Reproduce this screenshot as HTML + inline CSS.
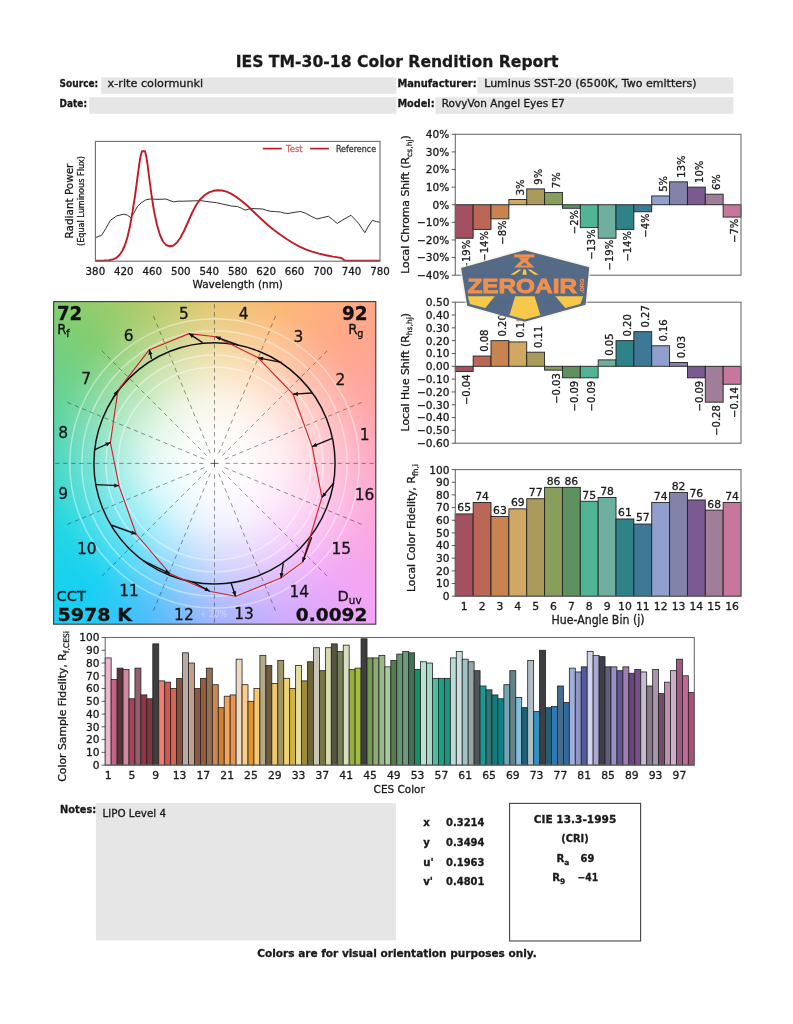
<!DOCTYPE html>
<html lang="en">
<head>
<meta charset="utf-8">
<title>IES TM-30-18 Color Rendition Report</title>
<style>
html, body { margin: 0; padding: 0; background: #ffffff; }
body { width: 793px; height: 1024px; overflow: hidden; position: relative; font-family: "DejaVu Sans", "Liberation Sans", sans-serif; }
#cvgbg {
  position: absolute; left: 53.6px; top: 301.6px; width: 322.2px; height: 322.6px;
  background:
    radial-gradient(circle at 50% 50%, #fff 0%, rgba(255,255,255,0) 62%),
    radial-gradient(circle at 0% 0%, rgb(130,205,112), rgba(130,205,112,0) 75%),
    radial-gradient(circle at 100% 0%, rgb(255,168,136), rgba(255,168,136,0) 75%),
    radial-gradient(circle at 0% 100%, rgb(22,208,243), rgba(22,208,243,0) 75%),
    radial-gradient(circle at 100% 100%, rgb(240,166,248), rgba(240,166,248,0) 75%),
    #e8e4ee;
  background:
    radial-gradient(circle closest-side at 50% 50%, rgba(255,255,255,1) 0%, rgba(255,255,255,0.96) 20%, rgba(255,255,255,0.82) 40%, rgba(255,255,255,0.58) 58%, rgba(255,255,255,0.34) 74%, rgba(255,255,255,0.14) 90%, rgba(255,255,255,0.03) 102%, rgba(255,255,255,0) 112%),
    conic-gradient(from 0deg at 50% 50%,
      rgb(230,197,108) 0deg,
      rgb(252,184,116) 22deg,
      rgb(255,168,136) 45deg,
      rgb(255,164,162) 67deg,
      rgb(254,166,194) 90deg,
      rgb(252,168,224) 112deg,
      rgb(240,166,248) 135deg,
      rgb(205,170,253) 157deg,
      rgb(158,175,253) 180deg,
      rgb(78,188,252) 202deg,
      rgb(22,208,243) 225deg,
      rgb(30,214,226) 247deg,
      rgb(66,214,192) 270deg,
      rgb(98,211,150) 292deg,
      rgb(130,205,112) 315deg,
      rgb(186,203,106) 340deg,
      rgb(230,197,108) 360deg);
}
svg { position: absolute; left: 0; top: 0; }
svg text { font-family: "DejaVu Sans", "Liberation Sans", sans-serif; fill: #1a1a1a; stroke: #1a1a1a; stroke-width: 0.3px; }
</style>
</head>
<body>
<div id="cvgbg"></div>
<svg width="793" height="1024" viewBox="0 0 793 1024">
<defs><clipPath id="cvgclip"><rect x="53.6" y="301.6" width="322.2" height="322.6"/></clipPath></defs>
<!-- header -->
<text x="235.70" y="66.60" font-size="16.6" font-weight="bold" textLength="322.8" lengthAdjust="spacingAndGlyphs">IES TM-30-18 Color Rendition Report</text>
<rect x="101.20" y="77.40" width="295.20" height="16.40" fill="#e6e6e6"/>
<rect x="89.20" y="97.20" width="307.20" height="16.60" fill="#e6e6e6"/>
<rect x="477.40" y="77.40" width="255.90" height="16.20" fill="#e6e6e6"/>
<rect x="435.40" y="97.20" width="297.90" height="16.60" fill="#e6e6e6"/>
<text x="59.60" y="87.20" font-size="10.4" font-weight="bold" textLength="38.6" lengthAdjust="spacingAndGlyphs">Source:</text>
<text x="107.60" y="87.20" font-size="10.4" textLength="95.6" lengthAdjust="spacingAndGlyphs">x-rite colormunki</text>
<text x="59.60" y="107.00" font-size="10.4" font-weight="bold" textLength="27.4" lengthAdjust="spacingAndGlyphs">Date:</text>
<text x="397.40" y="87.30" font-size="10.4" font-weight="bold" textLength="79.2" lengthAdjust="spacingAndGlyphs">Manufacturer:</text>
<text x="484.20" y="87.30" font-size="10.4" textLength="212.4" lengthAdjust="spacingAndGlyphs">Luminus SST-20 (6500K, Two emitters)</text>
<text x="397.40" y="107.00" font-size="10.4" font-weight="bold" textLength="37.2" lengthAdjust="spacingAndGlyphs">Model:</text>
<text x="441.80" y="107.00" font-size="10.4" textLength="123.0" lengthAdjust="spacingAndGlyphs">RovyVon Angel Eyes E7</text>
<!-- spectrum -->
<polyline fill="none" stroke="#1c1c1c" stroke-width="0.9" stroke-linejoin="round" points="95.4,237.7 101.7,235.2 105.5,229.0 110.5,220.3 116.8,215.8 123.9,214.2 127.5,215.2 130.7,217.6 134.0,213.0 137.0,207.0 141.0,203.0 145.8,199.9 150.9,198.9 158.0,199.4 166.0,199.0 170.0,200.6 173.6,201.9 178.0,201.2 183.7,201.2 192.0,200.9 201.3,200.7 209.0,201.8 216.5,202.7 224.0,204.4 231.6,206.0 237.6,206.6 241.5,208.2 245.1,210.2 250.2,208.6 256.0,208.7 262.8,209.0 266.5,210.4 270.4,211.3 275.5,211.6 280.4,212.0 284.0,213.0 288.0,213.5 294.0,212.4 300.6,211.5 305.7,213.3 311.0,216.2 317.0,219.0 322.5,217.6 328.4,216.3 332.5,219.5 337.2,223.4 344.0,219.2 351.0,215.3 354.8,219.2 358.6,223.4 361.8,228.2 364.9,232.7 368.5,226.0 372.5,220.3 376.3,221.6 380.0,222.1"/>
<polyline fill="none" stroke="#c41a26" stroke-width="1.9" stroke-linejoin="round" points="95.4,260.6 104.0,260.5 109.0,260.2 113.0,259.4 116.5,257.8 119.5,255.0 122.5,250.5 125.0,245.0 127.5,237.0 130.0,226.0 132.5,212.0 135.0,196.0 137.0,181.0 139.0,166.0 140.6,156.0 142.0,151.2 145.0,151.2 146.2,156.0 147.6,165.0 149.5,180.0 151.5,195.0 154.0,211.0 157.0,225.0 160.0,235.0 163.0,241.5 166.0,245.0 169.8,246.3 173.5,245.5 177.0,242.5 180.5,237.5 184.0,231.0 188.0,222.0 192.0,213.0 196.0,205.2 200.0,199.5 204.5,195.2 209.0,192.4 213.5,190.8 217.7,190.2 222.0,190.5 226.5,191.6 231.0,193.6 236.0,196.8 241.0,200.6 247.7,206.0 254.0,212.2 261.0,218.8 268.0,225.2 274.0,230.0 280.4,234.7 287.0,239.2 293.0,243.0 299.0,246.3 305.7,249.3 312.0,251.6 319.0,253.6 326.0,255.2 333.0,256.6 338.0,257.4 341.5,258.0 343.0,259.2 344.5,260.5 380.0,260.6"/>
<rect x="95.40" y="141.40" width="284.60" height="119.80" fill="none" stroke="#6e6e6e" stroke-width="1.1"/>
<text x="95.40" y="275.00" font-size="10.6" text-anchor="middle" textLength="19.6" lengthAdjust="spacingAndGlyphs">380</text>
<text x="123.86" y="275.00" font-size="10.6" text-anchor="middle" textLength="19.6" lengthAdjust="spacingAndGlyphs">420</text>
<text x="152.32" y="275.00" font-size="10.6" text-anchor="middle" textLength="19.6" lengthAdjust="spacingAndGlyphs">460</text>
<text x="180.78" y="275.00" font-size="10.6" text-anchor="middle" textLength="19.6" lengthAdjust="spacingAndGlyphs">500</text>
<text x="209.24" y="275.00" font-size="10.6" text-anchor="middle" textLength="19.6" lengthAdjust="spacingAndGlyphs">540</text>
<text x="237.70" y="275.00" font-size="10.6" text-anchor="middle" textLength="19.6" lengthAdjust="spacingAndGlyphs">580</text>
<text x="266.16" y="275.00" font-size="10.6" text-anchor="middle" textLength="19.6" lengthAdjust="spacingAndGlyphs">620</text>
<text x="294.62" y="275.00" font-size="10.6" text-anchor="middle" textLength="19.6" lengthAdjust="spacingAndGlyphs">660</text>
<text x="323.08" y="275.00" font-size="10.6" text-anchor="middle" textLength="19.6" lengthAdjust="spacingAndGlyphs">700</text>
<text x="351.54" y="275.00" font-size="10.6" text-anchor="middle" textLength="19.6" lengthAdjust="spacingAndGlyphs">740</text>
<text x="380.00" y="275.00" font-size="10.6" text-anchor="middle" textLength="19.6" lengthAdjust="spacingAndGlyphs">780</text>
<text x="237.70" y="288.40" font-size="11.2" text-anchor="middle" textLength="90.5" lengthAdjust="spacingAndGlyphs">Wavelength (nm)</text>
<text x="72.80" y="201.00" font-size="11.2" text-anchor="middle" textLength="74.8" lengthAdjust="spacingAndGlyphs" transform="rotate(-90 72.80 201.00)">Radiant Power</text>
<text x="83.90" y="201.00" font-size="8.4" text-anchor="middle" textLength="90.0" lengthAdjust="spacingAndGlyphs" transform="rotate(-90 83.90 201.00)">(Equal Luminous Flux)</text>
<line x1="262.80" y1="148.60" x2="281.70" y2="148.60" stroke="#c41a26" stroke-width="1.7"/>
<text x="286.00" y="151.90" font-size="9.0" textLength="16.6" lengthAdjust="spacingAndGlyphs" style="fill:#d4606a;stroke:#d4606a">Test</text>
<line x1="310.20" y1="148.60" x2="328.90" y2="148.60" stroke="#c41a26" stroke-width="1.7"/>
<text x="335.90" y="151.90" font-size="9.0" textLength="40.2" lengthAdjust="spacingAndGlyphs" style="fill:#333;stroke:#333">Reference</text>
<!-- chroma shift -->
<rect x="455.30" y="204.75" width="17.86" height="33.46" fill="#a35160" stroke="#222" stroke-width="0.9"/>
<text x="470.43" y="239.81" font-size="10.0" text-anchor="end" transform="rotate(-90 470.43 239.81)">−19%</text>
<rect x="473.16" y="204.75" width="17.86" height="24.66" fill="#ba6758" stroke="#222" stroke-width="0.9"/>
<text x="488.28" y="231.01" font-size="10.0" text-anchor="end" transform="rotate(-90 488.28 231.01)">−14%</text>
<rect x="491.01" y="204.75" width="17.86" height="14.09" fill="#c98350" stroke="#222" stroke-width="0.9"/>
<text x="506.14" y="220.44" font-size="10.0" text-anchor="end" transform="rotate(-90 506.14 220.44)">−8%</text>
<rect x="508.87" y="199.47" width="17.86" height="5.28" fill="#cfa863" stroke="#222" stroke-width="0.9"/>
<text x="524.00" y="195.27" font-size="10.0" transform="rotate(-90 524.00 195.27)">3%</text>
<rect x="526.73" y="188.90" width="17.86" height="15.85" fill="#aa9b5d" stroke="#222" stroke-width="0.9"/>
<text x="541.85" y="184.70" font-size="10.0" transform="rotate(-90 541.85 184.70)">9%</text>
<rect x="544.58" y="192.42" width="17.86" height="12.33" fill="#879e5c" stroke="#222" stroke-width="0.9"/>
<text x="559.71" y="188.22" font-size="10.0" transform="rotate(-90 559.71 188.22)">7%</text>
<rect x="562.44" y="204.75" width="17.86" height="3.52" fill="#5f905f" stroke="#222" stroke-width="0.9"/>
<text x="577.57" y="209.87" font-size="10.0" text-anchor="end" transform="rotate(-90 577.57 209.87)">−2%</text>
<rect x="580.29" y="204.75" width="17.86" height="22.90" fill="#51b595" stroke="#222" stroke-width="0.9"/>
<text x="595.42" y="229.25" font-size="10.0" text-anchor="end" transform="rotate(-90 595.42 229.25)">−13%</text>
<rect x="598.15" y="204.75" width="17.86" height="33.46" fill="#6eafa0" stroke="#222" stroke-width="0.9"/>
<text x="613.28" y="239.81" font-size="10.0" text-anchor="end" transform="rotate(-90 613.28 239.81)">−19%</text>
<rect x="616.01" y="204.75" width="17.86" height="24.66" fill="#2f8287" stroke="#222" stroke-width="0.9"/>
<text x="631.13" y="231.01" font-size="10.0" text-anchor="end" transform="rotate(-90 631.13 231.01)">−14%</text>
<rect x="633.86" y="204.75" width="17.86" height="7.04" fill="#3d7896" stroke="#222" stroke-width="0.9"/>
<text x="648.99" y="213.39" font-size="10.0" text-anchor="end" transform="rotate(-90 648.99 213.39)">−4%</text>
<rect x="651.72" y="195.94" width="17.86" height="8.81" fill="#919fce" stroke="#222" stroke-width="0.9"/>
<text x="666.85" y="191.74" font-size="10.0" transform="rotate(-90 666.85 191.74)">5%</text>
<rect x="669.58" y="181.85" width="17.86" height="22.90" fill="#8382a8" stroke="#222" stroke-width="0.9"/>
<text x="684.70" y="177.65" font-size="10.0" transform="rotate(-90 684.70 177.65)">13%</text>
<rect x="687.43" y="187.14" width="17.86" height="17.61" fill="#7b5a92" stroke="#222" stroke-width="0.9"/>
<text x="702.56" y="182.94" font-size="10.0" transform="rotate(-90 702.56 182.94)">10%</text>
<rect x="705.29" y="194.18" width="17.86" height="10.57" fill="#a07d99" stroke="#222" stroke-width="0.9"/>
<text x="720.42" y="189.98" font-size="10.0" transform="rotate(-90 720.42 189.98)">6%</text>
<rect x="723.14" y="204.75" width="17.86" height="12.33" fill="#c7779c" stroke="#222" stroke-width="0.9"/>
<text x="738.27" y="218.68" font-size="10.0" text-anchor="end" transform="rotate(-90 738.27 218.68)">−7%</text>
<rect x="455.30" y="134.30" width="285.70" height="140.90" fill="none" stroke="#6e6e6e" stroke-width="1.1"/>
<line x1="451.70" y1="134.30" x2="455.30" y2="134.30" stroke="#333" stroke-width="0.8"/>
<text x="449.40" y="138.20" font-size="10.6" text-anchor="end">40%</text>
<line x1="451.70" y1="151.91" x2="455.30" y2="151.91" stroke="#333" stroke-width="0.8"/>
<text x="449.40" y="155.81" font-size="10.6" text-anchor="end">30%</text>
<line x1="451.70" y1="169.53" x2="455.30" y2="169.53" stroke="#333" stroke-width="0.8"/>
<text x="449.40" y="173.43" font-size="10.6" text-anchor="end">20%</text>
<line x1="451.70" y1="187.14" x2="455.30" y2="187.14" stroke="#333" stroke-width="0.8"/>
<text x="449.40" y="191.04" font-size="10.6" text-anchor="end">10%</text>
<line x1="451.70" y1="204.75" x2="455.30" y2="204.75" stroke="#333" stroke-width="0.8"/>
<text x="449.40" y="208.65" font-size="10.6" text-anchor="end">0%</text>
<line x1="451.70" y1="222.36" x2="455.30" y2="222.36" stroke="#333" stroke-width="0.8"/>
<text x="449.40" y="226.26" font-size="10.6" text-anchor="end">−10%</text>
<line x1="451.70" y1="239.97" x2="455.30" y2="239.97" stroke="#333" stroke-width="0.8"/>
<text x="449.40" y="243.88" font-size="10.6" text-anchor="end">−20%</text>
<line x1="451.70" y1="257.59" x2="455.30" y2="257.59" stroke="#333" stroke-width="0.8"/>
<text x="449.40" y="261.49" font-size="10.6" text-anchor="end">−30%</text>
<line x1="451.70" y1="275.20" x2="455.30" y2="275.20" stroke="#333" stroke-width="0.8"/>
<text x="449.40" y="279.10" font-size="10.6" text-anchor="end">−40%</text>
<text x="409.2" y="204.5" font-size="10.8" text-anchor="middle" transform="rotate(-90 409.2 204.5)">Local Chroma Shift (R<tspan font-size="7.6" dy="2.8">cs,hj</tspan><tspan dy="-2.8">)</tspan></text>
<!-- hue shift -->
<rect x="455.30" y="366.29" width="17.86" height="5.13" fill="#a35160" stroke="#222" stroke-width="0.9"/>
<text x="470.43" y="374.42" font-size="10.0" text-anchor="end" transform="rotate(-90 470.43 374.42)">−0.04</text>
<rect x="473.16" y="356.04" width="17.86" height="10.25" fill="#ba6758" stroke="#222" stroke-width="0.9"/>
<text x="488.28" y="351.84" font-size="10.0" transform="rotate(-90 488.28 351.84)">0.08</text>
<rect x="491.01" y="340.65" width="17.86" height="25.64" fill="#c98350" stroke="#222" stroke-width="0.9"/>
<text x="506.14" y="336.45" font-size="10.0" transform="rotate(-90 506.14 336.45)">0.20</text>
<rect x="508.87" y="341.94" width="17.86" height="24.35" fill="#cfa863" stroke="#222" stroke-width="0.9"/>
<text x="524.00" y="337.74" font-size="10.0" transform="rotate(-90 524.00 337.74)">0.19</text>
<rect x="526.73" y="352.19" width="17.86" height="14.10" fill="#aa9b5d" stroke="#222" stroke-width="0.9"/>
<text x="541.85" y="347.99" font-size="10.0" transform="rotate(-90 541.85 347.99)">0.11</text>
<rect x="544.58" y="366.29" width="17.86" height="3.85" fill="#879e5c" stroke="#222" stroke-width="0.9"/>
<text x="559.71" y="373.14" font-size="10.0" text-anchor="end" transform="rotate(-90 559.71 373.14)">−0.03</text>
<rect x="562.44" y="366.29" width="17.86" height="11.54" fill="#5f905f" stroke="#222" stroke-width="0.9"/>
<text x="577.57" y="380.83" font-size="10.0" text-anchor="end" transform="rotate(-90 577.57 380.83)">−0.09</text>
<rect x="580.29" y="366.29" width="17.86" height="11.54" fill="#51b595" stroke="#222" stroke-width="0.9"/>
<text x="595.42" y="380.83" font-size="10.0" text-anchor="end" transform="rotate(-90 595.42 380.83)">−0.09</text>
<rect x="598.15" y="359.88" width="17.86" height="6.41" fill="#6eafa0" stroke="#222" stroke-width="0.9"/>
<text x="613.28" y="355.68" font-size="10.0" transform="rotate(-90 613.28 355.68)">0.05</text>
<rect x="616.01" y="340.65" width="17.86" height="25.64" fill="#2f8287" stroke="#222" stroke-width="0.9"/>
<text x="631.13" y="336.45" font-size="10.0" transform="rotate(-90 631.13 336.45)">0.20</text>
<rect x="633.86" y="331.68" width="17.86" height="34.61" fill="#3d7896" stroke="#222" stroke-width="0.9"/>
<text x="648.99" y="327.48" font-size="10.0" transform="rotate(-90 648.99 327.48)">0.27</text>
<rect x="651.72" y="345.78" width="17.86" height="20.51" fill="#919fce" stroke="#222" stroke-width="0.9"/>
<text x="666.85" y="341.58" font-size="10.0" transform="rotate(-90 666.85 341.58)">0.16</text>
<rect x="669.58" y="362.45" width="17.86" height="3.85" fill="#8382a8" stroke="#222" stroke-width="0.9"/>
<text x="684.70" y="358.25" font-size="10.0" transform="rotate(-90 684.70 358.25)">0.03</text>
<rect x="687.43" y="366.29" width="17.86" height="11.54" fill="#7b5a92" stroke="#222" stroke-width="0.9"/>
<text x="702.56" y="380.83" font-size="10.0" text-anchor="end" transform="rotate(-90 702.56 380.83)">−0.09</text>
<rect x="705.29" y="366.29" width="17.86" height="35.89" fill="#a07d99" stroke="#222" stroke-width="0.9"/>
<text x="720.42" y="405.18" font-size="10.0" text-anchor="end" transform="rotate(-90 720.42 405.18)">−0.28</text>
<rect x="723.14" y="366.29" width="17.86" height="17.95" fill="#c7779c" stroke="#222" stroke-width="0.9"/>
<text x="738.27" y="387.24" font-size="10.0" text-anchor="end" transform="rotate(-90 738.27 387.24)">−0.14</text>
<rect x="455.30" y="302.20" width="285.70" height="141.00" fill="none" stroke="#6e6e6e" stroke-width="1.1"/>
<line x1="451.70" y1="302.20" x2="455.30" y2="302.20" stroke="#333" stroke-width="0.8"/>
<text x="449.40" y="306.10" font-size="10.6" text-anchor="end">0.50</text>
<line x1="451.70" y1="315.02" x2="455.30" y2="315.02" stroke="#333" stroke-width="0.8"/>
<text x="449.40" y="318.92" font-size="10.6" text-anchor="end">0.40</text>
<line x1="451.70" y1="327.84" x2="455.30" y2="327.84" stroke="#333" stroke-width="0.8"/>
<text x="449.40" y="331.74" font-size="10.6" text-anchor="end">0.30</text>
<line x1="451.70" y1="340.65" x2="455.30" y2="340.65" stroke="#333" stroke-width="0.8"/>
<text x="449.40" y="344.55" font-size="10.6" text-anchor="end">0.20</text>
<line x1="451.70" y1="353.47" x2="455.30" y2="353.47" stroke="#333" stroke-width="0.8"/>
<text x="449.40" y="357.37" font-size="10.6" text-anchor="end">0.10</text>
<line x1="451.70" y1="366.29" x2="455.30" y2="366.29" stroke="#333" stroke-width="0.8"/>
<text x="449.40" y="370.19" font-size="10.6" text-anchor="end">0.00</text>
<line x1="451.70" y1="379.11" x2="455.30" y2="379.11" stroke="#333" stroke-width="0.8"/>
<text x="449.40" y="383.01" font-size="10.6" text-anchor="end">−0.10</text>
<line x1="451.70" y1="391.93" x2="455.30" y2="391.93" stroke="#333" stroke-width="0.8"/>
<text x="449.40" y="395.83" font-size="10.6" text-anchor="end">−0.20</text>
<line x1="451.70" y1="404.75" x2="455.30" y2="404.75" stroke="#333" stroke-width="0.8"/>
<text x="449.40" y="408.65" font-size="10.6" text-anchor="end">−0.30</text>
<line x1="451.70" y1="417.56" x2="455.30" y2="417.56" stroke="#333" stroke-width="0.8"/>
<text x="449.40" y="421.46" font-size="10.6" text-anchor="end">−0.40</text>
<line x1="451.70" y1="430.38" x2="455.30" y2="430.38" stroke="#333" stroke-width="0.8"/>
<text x="449.40" y="434.28" font-size="10.6" text-anchor="end">−0.50</text>
<line x1="451.70" y1="443.20" x2="455.30" y2="443.20" stroke="#333" stroke-width="0.8"/>
<text x="449.40" y="447.10" font-size="10.6" text-anchor="end">−0.60</text>
<text x="409.0" y="372.2" font-size="10.8" text-anchor="middle" transform="rotate(-90 409.0 372.2)">Local Hue Shift (R<tspan font-size="7.6" dy="2.8">hs,hj</tspan><tspan dy="-2.8">)</tspan></text>
<!-- local colour fidelity -->
<rect x="455.30" y="513.91" width="17.86" height="82.29" fill="#a35160" stroke="#222" stroke-width="0.9"/>
<text x="464.23" y="511.31" font-size="10.8" text-anchor="middle">65</text>
<text x="464.23" y="610.20" font-size="10.8" text-anchor="middle">1</text>
<rect x="473.16" y="502.52" width="17.86" height="93.68" fill="#ba6758" stroke="#222" stroke-width="0.9"/>
<text x="482.08" y="499.92" font-size="10.8" text-anchor="middle">74</text>
<text x="482.08" y="610.20" font-size="10.8" text-anchor="middle">2</text>
<rect x="491.01" y="516.44" width="17.86" height="79.76" fill="#c98350" stroke="#222" stroke-width="0.9"/>
<text x="499.94" y="513.84" font-size="10.8" text-anchor="middle">63</text>
<text x="499.94" y="610.20" font-size="10.8" text-anchor="middle">3</text>
<rect x="508.87" y="508.85" width="17.86" height="87.35" fill="#cfa863" stroke="#222" stroke-width="0.9"/>
<text x="517.80" y="506.25" font-size="10.8" text-anchor="middle">69</text>
<text x="517.80" y="610.20" font-size="10.8" text-anchor="middle">4</text>
<rect x="526.73" y="498.72" width="17.86" height="97.48" fill="#aa9b5d" stroke="#222" stroke-width="0.9"/>
<text x="535.65" y="496.12" font-size="10.8" text-anchor="middle">77</text>
<text x="535.65" y="610.20" font-size="10.8" text-anchor="middle">5</text>
<rect x="544.58" y="487.32" width="17.86" height="108.88" fill="#879e5c" stroke="#222" stroke-width="0.9"/>
<text x="553.51" y="484.72" font-size="10.8" text-anchor="middle">86</text>
<text x="553.51" y="610.20" font-size="10.8" text-anchor="middle">6</text>
<rect x="562.44" y="487.32" width="17.86" height="108.88" fill="#5f905f" stroke="#222" stroke-width="0.9"/>
<text x="571.37" y="484.72" font-size="10.8" text-anchor="middle">86</text>
<text x="571.37" y="610.20" font-size="10.8" text-anchor="middle">7</text>
<rect x="580.29" y="501.25" width="17.86" height="94.95" fill="#51b595" stroke="#222" stroke-width="0.9"/>
<text x="589.22" y="498.65" font-size="10.8" text-anchor="middle">75</text>
<text x="589.22" y="610.20" font-size="10.8" text-anchor="middle">8</text>
<rect x="598.15" y="497.45" width="17.86" height="98.75" fill="#6eafa0" stroke="#222" stroke-width="0.9"/>
<text x="607.08" y="494.85" font-size="10.8" text-anchor="middle">78</text>
<text x="607.08" y="610.20" font-size="10.8" text-anchor="middle">9</text>
<rect x="616.01" y="518.97" width="17.86" height="77.23" fill="#2f8287" stroke="#222" stroke-width="0.9"/>
<text x="624.93" y="516.37" font-size="10.8" text-anchor="middle">61</text>
<text x="624.93" y="610.20" font-size="10.8" text-anchor="middle">10</text>
<rect x="633.86" y="524.04" width="17.86" height="72.16" fill="#3d7896" stroke="#222" stroke-width="0.9"/>
<text x="642.79" y="521.44" font-size="10.8" text-anchor="middle">57</text>
<text x="642.79" y="610.20" font-size="10.8" text-anchor="middle">11</text>
<rect x="651.72" y="502.52" width="17.86" height="93.68" fill="#919fce" stroke="#222" stroke-width="0.9"/>
<text x="660.65" y="499.92" font-size="10.8" text-anchor="middle">74</text>
<text x="660.65" y="610.20" font-size="10.8" text-anchor="middle">12</text>
<rect x="669.58" y="492.39" width="17.86" height="103.81" fill="#8382a8" stroke="#222" stroke-width="0.9"/>
<text x="678.50" y="489.79" font-size="10.8" text-anchor="middle">82</text>
<text x="678.50" y="610.20" font-size="10.8" text-anchor="middle">13</text>
<rect x="687.43" y="499.98" width="17.86" height="96.22" fill="#7b5a92" stroke="#222" stroke-width="0.9"/>
<text x="696.36" y="497.38" font-size="10.8" text-anchor="middle">76</text>
<text x="696.36" y="610.20" font-size="10.8" text-anchor="middle">14</text>
<rect x="705.29" y="510.11" width="17.86" height="86.09" fill="#a07d99" stroke="#222" stroke-width="0.9"/>
<text x="714.22" y="507.51" font-size="10.8" text-anchor="middle">68</text>
<text x="714.22" y="610.20" font-size="10.8" text-anchor="middle">15</text>
<rect x="723.14" y="502.52" width="17.86" height="93.68" fill="#c7779c" stroke="#222" stroke-width="0.9"/>
<text x="732.07" y="499.92" font-size="10.8" text-anchor="middle">74</text>
<text x="732.07" y="610.20" font-size="10.8" text-anchor="middle">16</text>
<rect x="455.30" y="469.60" width="285.70" height="126.60" fill="none" stroke="#6e6e6e" stroke-width="1.1"/>
<line x1="451.70" y1="469.60" x2="455.30" y2="469.60" stroke="#333" stroke-width="0.8"/>
<text x="449.40" y="473.50" font-size="10.6" text-anchor="end">100</text>
<line x1="451.70" y1="482.26" x2="455.30" y2="482.26" stroke="#333" stroke-width="0.8"/>
<text x="449.40" y="486.16" font-size="10.6" text-anchor="end">90</text>
<line x1="451.70" y1="494.92" x2="455.30" y2="494.92" stroke="#333" stroke-width="0.8"/>
<text x="449.40" y="498.82" font-size="10.6" text-anchor="end">80</text>
<line x1="451.70" y1="507.58" x2="455.30" y2="507.58" stroke="#333" stroke-width="0.8"/>
<text x="449.40" y="511.48" font-size="10.6" text-anchor="end">70</text>
<line x1="451.70" y1="520.24" x2="455.30" y2="520.24" stroke="#333" stroke-width="0.8"/>
<text x="449.40" y="524.14" font-size="10.6" text-anchor="end">60</text>
<line x1="451.70" y1="532.90" x2="455.30" y2="532.90" stroke="#333" stroke-width="0.8"/>
<text x="449.40" y="536.80" font-size="10.6" text-anchor="end">50</text>
<line x1="451.70" y1="545.56" x2="455.30" y2="545.56" stroke="#333" stroke-width="0.8"/>
<text x="449.40" y="549.46" font-size="10.6" text-anchor="end">40</text>
<line x1="451.70" y1="558.22" x2="455.30" y2="558.22" stroke="#333" stroke-width="0.8"/>
<text x="449.40" y="562.12" font-size="10.6" text-anchor="end">30</text>
<line x1="451.70" y1="570.88" x2="455.30" y2="570.88" stroke="#333" stroke-width="0.8"/>
<text x="449.40" y="574.78" font-size="10.6" text-anchor="end">20</text>
<line x1="451.70" y1="583.54" x2="455.30" y2="583.54" stroke="#333" stroke-width="0.8"/>
<text x="449.40" y="587.44" font-size="10.6" text-anchor="end">10</text>
<line x1="451.70" y1="596.20" x2="455.30" y2="596.20" stroke="#333" stroke-width="0.8"/>
<text x="449.40" y="600.10" font-size="10.6" text-anchor="end">0</text>
<text x="598.00" y="623.60" font-size="11.4" text-anchor="middle" textLength="93.0" lengthAdjust="spacingAndGlyphs">Hue-Angle Bin (j)</text>
<text x="415.3" y="528.0" font-size="10.8" text-anchor="middle" transform="rotate(-90 415.3 528.0)">Local Color Fidelity, R<tspan font-size="7.6" dy="2.8">fh,i</tspan></text>
<!-- CES fidelity -->
<g stroke="#222" stroke-width="0.8">
<rect x="105.20" y="657.92" width="5.95" height="107.18" fill="rgb(238,182,205)"/>
<rect x="111.15" y="679.61" width="5.95" height="85.49" fill="rgb(198,98,135)"/>
<rect x="117.10" y="668.12" width="5.95" height="96.98" fill="rgb(88,52,55)"/>
<rect x="123.05" y="669.40" width="5.95" height="95.70" fill="rgb(208,138,160)"/>
<rect x="129.00" y="698.75" width="5.95" height="66.35" fill="rgb(172,65,92)"/>
<rect x="134.95" y="668.12" width="5.95" height="96.98" fill="rgb(150,95,108)"/>
<rect x="140.90" y="694.92" width="5.95" height="70.18" fill="rgb(145,52,70)"/>
<rect x="146.85" y="698.75" width="5.95" height="66.35" fill="rgb(130,55,62)"/>
<rect x="152.80" y="643.88" width="5.95" height="121.22" fill="rgb(62,62,62)"/>
<rect x="158.75" y="680.88" width="5.95" height="84.22" fill="rgb(242,125,110)"/>
<rect x="164.71" y="682.16" width="5.95" height="82.94" fill="rgb(205,88,82)"/>
<rect x="170.66" y="688.54" width="5.95" height="76.56" fill="rgb(215,100,80)"/>
<rect x="176.61" y="678.33" width="5.95" height="86.77" fill="rgb(135,80,60)"/>
<rect x="182.56" y="652.81" width="5.95" height="112.29" fill="rgb(185,170,162)"/>
<rect x="188.51" y="663.02" width="5.95" height="102.08" fill="rgb(195,160,142)"/>
<rect x="194.46" y="688.54" width="5.95" height="76.56" fill="rgb(140,88,65)"/>
<rect x="200.41" y="678.33" width="5.95" height="86.77" fill="rgb(150,92,62)"/>
<rect x="206.36" y="668.12" width="5.95" height="96.98" fill="rgb(150,112,80)"/>
<rect x="212.31" y="684.71" width="5.95" height="80.39" fill="rgb(205,135,80)"/>
<rect x="218.26" y="707.68" width="5.95" height="57.42" fill="rgb(205,130,50)"/>
<rect x="224.21" y="696.20" width="5.95" height="68.90" fill="rgb(245,165,90)"/>
<rect x="230.16" y="694.92" width="5.95" height="70.18" fill="rgb(235,150,80)"/>
<rect x="236.11" y="659.19" width="5.95" height="105.91" fill="rgb(240,218,195)"/>
<rect x="242.06" y="684.71" width="5.95" height="80.39" fill="rgb(250,205,140)"/>
<rect x="248.01" y="701.30" width="5.95" height="63.80" fill="rgb(225,150,45)"/>
<rect x="253.96" y="688.54" width="5.95" height="76.56" fill="rgb(250,200,110)"/>
<rect x="259.91" y="655.36" width="5.95" height="109.74" fill="rgb(180,170,135)"/>
<rect x="265.86" y="665.57" width="5.95" height="99.53" fill="rgb(110,92,65)"/>
<rect x="271.81" y="683.44" width="5.95" height="81.66" fill="rgb(240,200,105)"/>
<rect x="277.76" y="660.47" width="5.95" height="104.63" fill="rgb(160,150,100)"/>
<rect x="283.72" y="678.33" width="5.95" height="86.77" fill="rgb(240,210,110)"/>
<rect x="289.67" y="688.54" width="5.95" height="76.56" fill="rgb(210,180,70)"/>
<rect x="295.62" y="665.57" width="5.95" height="99.53" fill="rgb(230,222,160)"/>
<rect x="301.57" y="680.88" width="5.95" height="84.22" fill="rgb(160,140,55)"/>
<rect x="307.52" y="661.74" width="5.95" height="103.36" fill="rgb(110,100,60)"/>
<rect x="313.47" y="647.71" width="5.95" height="117.39" fill="rgb(200,198,185)"/>
<rect x="319.42" y="670.68" width="5.95" height="94.42" fill="rgb(120,118,65)"/>
<rect x="325.37" y="647.71" width="5.95" height="117.39" fill="rgb(215,218,175)"/>
<rect x="331.32" y="643.88" width="5.95" height="121.22" fill="rgb(85,85,65)"/>
<rect x="337.27" y="651.54" width="5.95" height="113.56" fill="rgb(120,128,90)"/>
<rect x="343.22" y="645.16" width="5.95" height="119.94" fill="rgb(215,222,195)"/>
<rect x="349.17" y="669.40" width="5.95" height="95.70" fill="rgb(150,175,65)"/>
<rect x="355.12" y="668.12" width="5.95" height="96.98" fill="rgb(160,190,60)"/>
<rect x="361.07" y="638.78" width="5.95" height="126.32" fill="rgb(62,62,62)"/>
<rect x="367.02" y="657.92" width="5.95" height="107.18" fill="rgb(115,155,80)"/>
<rect x="372.97" y="657.92" width="5.95" height="107.18" fill="rgb(140,170,115)"/>
<rect x="378.92" y="655.36" width="5.95" height="109.74" fill="rgb(150,185,135)"/>
<rect x="384.87" y="666.85" width="5.95" height="98.25" fill="rgb(165,205,155)"/>
<rect x="390.82" y="660.47" width="5.95" height="104.63" fill="rgb(85,125,75)"/>
<rect x="396.77" y="654.09" width="5.95" height="111.01" fill="rgb(100,150,115)"/>
<rect x="402.73" y="651.54" width="5.95" height="113.56" fill="rgb(110,155,125)"/>
<rect x="408.68" y="652.81" width="5.95" height="112.29" fill="rgb(65,115,85)"/>
<rect x="414.63" y="669.40" width="5.95" height="95.70" fill="rgb(20,145,100)"/>
<rect x="420.58" y="661.74" width="5.95" height="103.36" fill="rgb(185,225,210)"/>
<rect x="426.53" y="663.02" width="5.95" height="102.08" fill="rgb(170,215,200)"/>
<rect x="432.48" y="678.33" width="5.95" height="86.77" fill="rgb(75,190,160)"/>
<rect x="438.43" y="678.33" width="5.95" height="86.77" fill="rgb(20,165,135)"/>
<rect x="444.38" y="678.33" width="5.95" height="86.77" fill="rgb(25,150,125)"/>
<rect x="450.33" y="657.92" width="5.95" height="107.18" fill="rgb(185,220,215)"/>
<rect x="456.28" y="651.54" width="5.95" height="113.56" fill="rgb(205,222,225)"/>
<rect x="462.23" y="659.19" width="5.95" height="105.91" fill="rgb(160,195,195)"/>
<rect x="468.18" y="661.74" width="5.95" height="103.36" fill="rgb(150,165,165)"/>
<rect x="474.13" y="670.68" width="5.95" height="94.42" fill="rgb(78,85,88)"/>
<rect x="480.08" y="685.99" width="5.95" height="79.11" fill="rgb(20,155,150)"/>
<rect x="486.03" y="689.82" width="5.95" height="75.28" fill="rgb(50,115,115)"/>
<rect x="491.98" y="694.92" width="5.95" height="70.18" fill="rgb(15,125,125)"/>
<rect x="497.93" y="698.75" width="5.95" height="66.35" fill="rgb(10,130,135)"/>
<rect x="503.88" y="684.71" width="5.95" height="80.39" fill="rgb(115,165,180)"/>
<rect x="509.83" y="670.68" width="5.95" height="94.42" fill="rgb(100,130,135)"/>
<rect x="515.78" y="697.47" width="5.95" height="67.63" fill="rgb(130,190,220)"/>
<rect x="521.74" y="707.68" width="5.95" height="57.42" fill="rgb(30,95,115)"/>
<rect x="527.69" y="660.47" width="5.95" height="104.63" fill="rgb(175,190,195)"/>
<rect x="533.64" y="711.51" width="5.95" height="53.59" fill="rgb(50,145,195)"/>
<rect x="539.59" y="650.26" width="5.95" height="114.84" fill="rgb(62,62,65)"/>
<rect x="545.54" y="707.68" width="5.95" height="57.42" fill="rgb(35,95,115)"/>
<rect x="551.49" y="706.40" width="5.95" height="58.70" fill="rgb(50,120,180)"/>
<rect x="557.44" y="685.99" width="5.95" height="79.11" fill="rgb(70,110,140)"/>
<rect x="563.39" y="702.58" width="5.95" height="62.52" fill="rgb(50,105,160)"/>
<rect x="569.34" y="668.12" width="5.95" height="96.98" fill="rgb(160,175,215)"/>
<rect x="575.29" y="671.95" width="5.95" height="93.15" fill="rgb(145,150,200)"/>
<rect x="581.24" y="666.85" width="5.95" height="98.25" fill="rgb(85,90,160)"/>
<rect x="587.19" y="651.54" width="5.95" height="113.56" fill="rgb(210,212,235)"/>
<rect x="593.14" y="655.36" width="5.95" height="109.74" fill="rgb(170,170,210)"/>
<rect x="599.09" y="656.64" width="5.95" height="108.46" fill="rgb(62,62,75)"/>
<rect x="605.04" y="666.85" width="5.95" height="98.25" fill="rgb(95,95,125)"/>
<rect x="610.99" y="666.85" width="5.95" height="98.25" fill="rgb(150,145,200)"/>
<rect x="616.94" y="670.68" width="5.95" height="94.42" fill="rgb(100,85,145)"/>
<rect x="622.89" y="666.85" width="5.95" height="98.25" fill="rgb(160,125,185)"/>
<rect x="628.84" y="673.23" width="5.95" height="91.87" fill="rgb(105,70,125)"/>
<rect x="634.79" y="669.40" width="5.95" height="95.70" fill="rgb(120,80,140)"/>
<rect x="640.75" y="671.95" width="5.95" height="93.15" fill="rgb(195,190,200)"/>
<rect x="646.70" y="685.99" width="5.95" height="79.11" fill="rgb(135,120,145)"/>
<rect x="652.65" y="669.40" width="5.95" height="95.70" fill="rgb(170,150,170)"/>
<rect x="658.60" y="693.64" width="5.95" height="71.46" fill="rgb(115,75,105)"/>
<rect x="664.55" y="682.16" width="5.95" height="82.94" fill="rgb(185,145,175)"/>
<rect x="670.50" y="670.68" width="5.95" height="94.42" fill="rgb(205,175,200)"/>
<rect x="676.45" y="659.19" width="5.95" height="105.91" fill="rgb(160,90,130)"/>
<rect x="682.40" y="675.78" width="5.95" height="89.32" fill="rgb(195,105,150)"/>
<rect x="688.35" y="692.37" width="5.95" height="72.73" fill="rgb(170,80,120)"/>
</g>
<rect x="105.20" y="637.50" width="589.10" height="127.60" fill="none" stroke="#6e6e6e" stroke-width="1.1"/>
<line x1="101.60" y1="637.50" x2="105.20" y2="637.50" stroke="#333" stroke-width="0.8"/>
<text x="99.40" y="641.40" font-size="10.6" text-anchor="end">100</text>
<line x1="101.60" y1="650.26" x2="105.20" y2="650.26" stroke="#333" stroke-width="0.8"/>
<text x="99.40" y="654.16" font-size="10.6" text-anchor="end">90</text>
<line x1="101.60" y1="663.02" x2="105.20" y2="663.02" stroke="#333" stroke-width="0.8"/>
<text x="99.40" y="666.92" font-size="10.6" text-anchor="end">80</text>
<line x1="101.60" y1="675.78" x2="105.20" y2="675.78" stroke="#333" stroke-width="0.8"/>
<text x="99.40" y="679.68" font-size="10.6" text-anchor="end">70</text>
<line x1="101.60" y1="688.54" x2="105.20" y2="688.54" stroke="#333" stroke-width="0.8"/>
<text x="99.40" y="692.44" font-size="10.6" text-anchor="end">60</text>
<line x1="101.60" y1="701.30" x2="105.20" y2="701.30" stroke="#333" stroke-width="0.8"/>
<text x="99.40" y="705.20" font-size="10.6" text-anchor="end">50</text>
<line x1="101.60" y1="714.06" x2="105.20" y2="714.06" stroke="#333" stroke-width="0.8"/>
<text x="99.40" y="717.96" font-size="10.6" text-anchor="end">40</text>
<line x1="101.60" y1="726.82" x2="105.20" y2="726.82" stroke="#333" stroke-width="0.8"/>
<text x="99.40" y="730.72" font-size="10.6" text-anchor="end">30</text>
<line x1="101.60" y1="739.58" x2="105.20" y2="739.58" stroke="#333" stroke-width="0.8"/>
<text x="99.40" y="743.48" font-size="10.6" text-anchor="end">20</text>
<line x1="101.60" y1="752.34" x2="105.20" y2="752.34" stroke="#333" stroke-width="0.8"/>
<text x="99.40" y="756.24" font-size="10.6" text-anchor="end">10</text>
<line x1="101.60" y1="765.10" x2="105.20" y2="765.10" stroke="#333" stroke-width="0.8"/>
<text x="99.40" y="769.00" font-size="10.6" text-anchor="end">0</text>
<text x="108.18" y="778.80" font-size="10.8" text-anchor="middle">1</text>
<text x="131.98" y="778.80" font-size="10.8" text-anchor="middle">5</text>
<text x="155.78" y="778.80" font-size="10.8" text-anchor="middle">9</text>
<text x="179.58" y="778.80" font-size="10.8" text-anchor="middle">13</text>
<text x="203.38" y="778.80" font-size="10.8" text-anchor="middle">17</text>
<text x="227.19" y="778.80" font-size="10.8" text-anchor="middle">21</text>
<text x="250.99" y="778.80" font-size="10.8" text-anchor="middle">25</text>
<text x="274.79" y="778.80" font-size="10.8" text-anchor="middle">29</text>
<text x="298.59" y="778.80" font-size="10.8" text-anchor="middle">33</text>
<text x="322.39" y="778.80" font-size="10.8" text-anchor="middle">37</text>
<text x="346.20" y="778.80" font-size="10.8" text-anchor="middle">41</text>
<text x="370.00" y="778.80" font-size="10.8" text-anchor="middle">45</text>
<text x="393.80" y="778.80" font-size="10.8" text-anchor="middle">49</text>
<text x="417.60" y="778.80" font-size="10.8" text-anchor="middle">53</text>
<text x="441.40" y="778.80" font-size="10.8" text-anchor="middle">57</text>
<text x="465.21" y="778.80" font-size="10.8" text-anchor="middle">61</text>
<text x="489.01" y="778.80" font-size="10.8" text-anchor="middle">65</text>
<text x="512.81" y="778.80" font-size="10.8" text-anchor="middle">69</text>
<text x="536.61" y="778.80" font-size="10.8" text-anchor="middle">73</text>
<text x="560.41" y="778.80" font-size="10.8" text-anchor="middle">77</text>
<text x="584.22" y="778.80" font-size="10.8" text-anchor="middle">81</text>
<text x="608.02" y="778.80" font-size="10.8" text-anchor="middle">85</text>
<text x="631.82" y="778.80" font-size="10.8" text-anchor="middle">89</text>
<text x="655.62" y="778.80" font-size="10.8" text-anchor="middle">93</text>
<text x="679.42" y="778.80" font-size="10.8" text-anchor="middle">97</text>
<text x="399.20" y="792.80" font-size="11.2" text-anchor="middle" textLength="51.2" lengthAdjust="spacingAndGlyphs">CES Color</text>
<text x="65.8" y="706.4" font-size="10.8" text-anchor="middle" transform="rotate(-90 65.8 706.4)">Color Sample Fidelity, R<tspan font-size="7.6" dy="2.8">f,CESi</tspan></text>
<!-- colour vector graphic -->
<g clip-path="url(#cvgclip)">
<circle cx="214.5" cy="463.4" r="96.5" fill="none" stroke="#fff" stroke-opacity="0.42" stroke-width="1.5"/>
<circle cx="214.5" cy="463.4" r="108.5" fill="none" stroke="#fff" stroke-opacity="0.42" stroke-width="1.5"/>
<circle cx="214.5" cy="463.4" r="120.6" fill="none" stroke="#fff" stroke-opacity="0.42" stroke-width="1.5"/>
<circle cx="214.5" cy="463.4" r="132.7" fill="none" stroke="#fff" stroke-opacity="0.42" stroke-width="1.5"/>
<circle cx="214.5" cy="463.4" r="144.7" fill="none" stroke="#fff" stroke-opacity="0.42" stroke-width="1.5"/>
<line x1="225.50" y1="463.40" x2="375.00" y2="463.40" stroke="#3c3c3c" stroke-width="0.75" stroke-dasharray="4.3 3.7" stroke-opacity="0.72"/>
<line x1="224.66" y1="459.19" x2="362.78" y2="401.98" stroke="#3c3c3c" stroke-width="0.75" stroke-dasharray="4.3 3.7" stroke-opacity="0.72"/>
<line x1="222.28" y1="455.62" x2="327.99" y2="349.91" stroke="#3c3c3c" stroke-width="0.75" stroke-dasharray="4.3 3.7" stroke-opacity="0.72"/>
<line x1="218.71" y1="453.24" x2="275.92" y2="315.12" stroke="#3c3c3c" stroke-width="0.75" stroke-dasharray="4.3 3.7" stroke-opacity="0.72"/>
<line x1="214.50" y1="452.40" x2="214.50" y2="302.90" stroke="#3c3c3c" stroke-width="0.75" stroke-dasharray="4.3 3.7" stroke-opacity="0.72"/>
<line x1="210.29" y1="453.24" x2="153.08" y2="315.12" stroke="#3c3c3c" stroke-width="0.75" stroke-dasharray="4.3 3.7" stroke-opacity="0.72"/>
<line x1="206.72" y1="455.62" x2="101.01" y2="349.91" stroke="#3c3c3c" stroke-width="0.75" stroke-dasharray="4.3 3.7" stroke-opacity="0.72"/>
<line x1="204.34" y1="459.19" x2="66.22" y2="401.98" stroke="#3c3c3c" stroke-width="0.75" stroke-dasharray="4.3 3.7" stroke-opacity="0.72"/>
<line x1="203.50" y1="463.40" x2="54.00" y2="463.40" stroke="#3c3c3c" stroke-width="0.75" stroke-dasharray="4.3 3.7" stroke-opacity="0.72"/>
<line x1="204.34" y1="467.61" x2="66.22" y2="524.82" stroke="#3c3c3c" stroke-width="0.75" stroke-dasharray="4.3 3.7" stroke-opacity="0.72"/>
<line x1="206.72" y1="471.18" x2="101.01" y2="576.89" stroke="#3c3c3c" stroke-width="0.75" stroke-dasharray="4.3 3.7" stroke-opacity="0.72"/>
<line x1="210.29" y1="473.56" x2="153.08" y2="611.68" stroke="#3c3c3c" stroke-width="0.75" stroke-dasharray="4.3 3.7" stroke-opacity="0.72"/>
<line x1="214.50" y1="474.40" x2="214.50" y2="623.90" stroke="#3c3c3c" stroke-width="0.75" stroke-dasharray="4.3 3.7" stroke-opacity="0.72"/>
<line x1="218.71" y1="473.56" x2="275.92" y2="611.68" stroke="#3c3c3c" stroke-width="0.75" stroke-dasharray="4.3 3.7" stroke-opacity="0.72"/>
<line x1="222.28" y1="471.18" x2="327.99" y2="576.89" stroke="#3c3c3c" stroke-width="0.75" stroke-dasharray="4.3 3.7" stroke-opacity="0.72"/>
<line x1="224.66" y1="467.61" x2="362.78" y2="524.82" stroke="#3c3c3c" stroke-width="0.75" stroke-dasharray="4.3 3.7" stroke-opacity="0.72"/>
<line x1="210.50" y1="463.40" x2="218.50" y2="463.40" stroke="#333" stroke-width="0.8"/>
<line x1="214.50" y1="459.40" x2="214.50" y2="467.40" stroke="#333" stroke-width="0.8"/>
<text x="213.5" y="617.2" font-size="8.2" text-anchor="middle" style="fill:#fff;fill-opacity:0.4;stroke:none">+ 20%</text>
</g>
<circle cx="214.5" cy="463.4" r="120.6" fill="none" stroke="#111" stroke-width="1.5"/>
<polygon fill="none" stroke="#d4222a" stroke-width="1.15" stroke-linejoin="round" points="312.1,446.6 293.1,394.2 258.2,357.8 215.7,336.8 189.0,333.6 149.4,349.7 117.9,390.4 110.4,442.5 119.0,485.7 136.1,534.0 169.8,573.6 209.6,591.2 235.6,596.2 281.0,578.0 302.6,562.1 321.9,497.4"/>
<line x1="332.10" y1="438.40" x2="312.10" y2="446.60" stroke="#111" stroke-width="1.35"/>
<polygon points="312.1,446.6 317.3,446.7 315.7,442.8" fill="#111"/>
<line x1="312.10" y1="393.00" x2="293.10" y2="394.20" stroke="#111" stroke-width="1.35"/>
<polygon points="293.1,394.2 298.0,396.0 297.8,391.8" fill="#111"/>
<line x1="281.50" y1="362.40" x2="258.20" y2="357.80" stroke="#111" stroke-width="1.35"/>
<polygon points="258.2,357.8 262.5,360.8 263.3,356.7" fill="#111"/>
<line x1="238.00" y1="345.00" x2="215.70" y2="336.80" stroke="#111" stroke-width="1.35"/>
<polygon points="215.7,336.8 219.5,340.4 220.9,336.5" fill="#111"/>
<line x1="202.60" y1="342.60" x2="189.00" y2="333.60" stroke="#111" stroke-width="1.35"/>
<polygon points="189.0,333.6 191.8,338.0 194.2,334.5" fill="#111"/>
<line x1="151.50" y1="358.90" x2="149.40" y2="349.70" stroke="#111" stroke-width="1.35"/>
<polygon points="149.4,349.7 148.4,354.8 152.5,353.9" fill="#111"/>
<line x1="113.20" y1="397.50" x2="117.90" y2="390.40" stroke="#111" stroke-width="1.35"/>
<polygon points="117.9,390.4 113.5,393.2 117.0,395.6" fill="#111"/>
<line x1="94.30" y1="449.80" x2="110.40" y2="442.50" stroke="#111" stroke-width="1.35"/>
<polygon points="110.4,442.5 105.2,442.6 106.9,446.4" fill="#111"/>
<line x1="95.40" y1="484.70" x2="119.00" y2="485.70" stroke="#111" stroke-width="1.35"/>
<polygon points="119.0,485.7 114.3,483.4 114.1,487.6" fill="#111"/>
<line x1="111.00" y1="525.00" x2="136.10" y2="534.00" stroke="#111" stroke-width="1.35"/>
<polygon points="136.1,534.0 132.3,530.4 130.9,534.4" fill="#111"/>
<line x1="143.60" y1="560.80" x2="169.80" y2="573.60" stroke="#111" stroke-width="1.35"/>
<polygon points="169.8,573.6 166.4,569.6 164.6,573.4" fill="#111"/>
<line x1="192.90" y1="582.00" x2="209.60" y2="591.20" stroke="#111" stroke-width="1.35"/>
<polygon points="209.6,591.2 206.4,587.0 204.4,590.7" fill="#111"/>
<line x1="231.10" y1="583.00" x2="235.60" y2="596.20" stroke="#111" stroke-width="1.35"/>
<polygon points="235.6,596.2 236.0,591.0 232.1,592.3" fill="#111"/>
<line x1="283.30" y1="563.30" x2="281.00" y2="578.00" stroke="#111" stroke-width="1.35"/>
<polygon points="281.0,578.0 283.8,573.6 279.7,572.9" fill="#111"/>
<line x1="311.70" y1="537.20" x2="302.60" y2="562.10" stroke="#111" stroke-width="1.35"/>
<polygon points="302.6,562.1 306.2,558.3 302.3,556.9" fill="#111"/>
<line x1="333.90" y1="482.70" x2="321.90" y2="497.40" stroke="#111" stroke-width="1.35"/>
<polygon points="321.9,497.4 326.6,495.0 323.3,492.4" fill="#111"/>
<rect x="53.60" y="301.60" width="322.20" height="322.60" fill="none" stroke="#3a3a3a" stroke-width="1.1"/>
<text x="364.60" y="439.50" font-size="15.4" text-anchor="middle" style="fill:#151515;stroke:#151515">1</text>
<text x="340.50" y="385.00" font-size="15.4" text-anchor="middle" style="fill:#151515;stroke:#151515">2</text>
<text x="298.50" y="341.90" font-size="15.4" text-anchor="middle" style="fill:#151515;stroke:#151515">3</text>
<text x="243.60" y="319.20" font-size="15.4" text-anchor="middle" style="fill:#151515;stroke:#151515">4</text>
<text x="183.90" y="318.80" font-size="15.4" text-anchor="middle" style="fill:#151515;stroke:#151515">5</text>
<text x="128.60" y="341.30" font-size="15.4" text-anchor="middle" style="fill:#151515;stroke:#151515">6</text>
<text x="86.20" y="384.20" font-size="15.4" text-anchor="middle" style="fill:#151515;stroke:#151515">7</text>
<text x="63.20" y="438.40" font-size="15.4" text-anchor="middle" style="fill:#151515;stroke:#151515">8</text>
<text x="63.20" y="498.80" font-size="15.4" text-anchor="middle" style="fill:#151515;stroke:#151515">9</text>
<text x="86.80" y="553.90" font-size="15.4" text-anchor="middle" style="fill:#151515;stroke:#151515">10</text>
<text x="129.00" y="596.40" font-size="15.4" text-anchor="middle" style="fill:#151515;stroke:#151515">11</text>
<text x="183.90" y="619.50" font-size="15.4" text-anchor="middle" style="fill:#151515;stroke:#151515">12</text>
<text x="244.00" y="618.80" font-size="15.4" text-anchor="middle" style="fill:#151515;stroke:#151515">13</text>
<text x="299.20" y="596.80" font-size="15.4" text-anchor="middle" style="fill:#151515;stroke:#151515">14</text>
<text x="341.20" y="554.10" font-size="15.4" text-anchor="middle" style="fill:#151515;stroke:#151515">15</text>
<text x="364.60" y="499.60" font-size="15.4" text-anchor="middle" style="fill:#151515;stroke:#151515">16</text>
<text x="57.00" y="320.40" font-size="19.4" font-weight="bold" textLength="25.2" lengthAdjust="spacingAndGlyphs" style="fill:#111;stroke:#111">72</text>
<text x="57.2" y="333.7" font-size="13.2" style="fill:#111;stroke:#111">R<tspan font-size="9.6" dy="3.4">f</tspan></text>
<text x="367.60" y="320.20" font-size="19.4" font-weight="bold" text-anchor="end" textLength="25.6" lengthAdjust="spacingAndGlyphs" style="fill:#111;stroke:#111">92</text>
<text x="348.2" y="333.7" font-size="13.2" style="fill:#111;stroke:#111">R<tspan font-size="9.6" dy="3.4">g</tspan></text>
<text x="56.60" y="600.60" font-size="14.6" textLength="29.4" lengthAdjust="spacingAndGlyphs" style="fill:#111;stroke:#111">CCT</text>
<text x="57.60" y="621.00" font-size="18.4" font-weight="bold" textLength="74.4" lengthAdjust="spacingAndGlyphs" style="fill:#111;stroke:#111">5978 K</text>
<text x="337.6" y="601.2" font-size="14.6" style="fill:#111;stroke:#111">D<tspan font-size="10.4" dy="2.6">uv</tspan></text>
<text x="367.40" y="621.00" font-size="18.4" font-weight="bold" text-anchor="end" textLength="71.6" lengthAdjust="spacingAndGlyphs" style="fill:#111;stroke:#111">0.0092</text>
<!-- watermark logo -->
<g>
<polygon points="524.7,250.2 589.2,267.3 585.6,304.7 524.7,321.8 467.2,305.7 461.1,267.9" fill="#f7efd8" fill-opacity="0.7" stroke="#f7efd8" stroke-opacity="0.6" stroke-width="3.6" stroke-linejoin="round"/>
<polygon points="524.7,250.2 589.2,267.3 585.6,304.7 524.7,321.8 467.2,305.7 461.1,267.9" fill="#4a617f" fill-opacity="0.94"/>
<polygon points="467.8,296.2 494.8,296.2 485.3,307.9 470.0,304.0" fill="#f7c84a"/>
<polygon points="555.3,296.2 583.2,296.2 580.4,304.0 565.4,307.9" fill="#f7c84a"/>
<polygon points="515.2,296.2 534.6,296.2 540.4,315.2 524.7,319.6 509.4,315.2" fill="#f7c84a"/>
<polygon points="518.6,269.6 521.6,269.6 514.6,274.8 510.4,274.8" fill="#f7c84a"/>
<polygon points="523.4,269.6 525.8,269.6 526.8,274.8 522.4,274.8" fill="#f7c84a"/>
<polygon points="527.6,269.6 530.6,269.6 538.8,274.8 534.6,274.8" fill="#f7c84a"/>
<rect x="514.2" y="254.4" width="20.2" height="3.0" fill="#f0904e"/>
<path d="M518.4 257.4 L530.2 257.4 L527.4 260.6 L534.4 267.4 L514.2 267.4 L521.2 260.6 Z M524.3 262.2 L520.6 265.6 L528.0 265.6 Z" fill="#f0904e" fill-rule="evenodd"/>
<text x="467.4" y="293.0" font-size="20.4" font-weight="bold" style="font-family:'Liberation Sans','DejaVu Sans',sans-serif;fill:#f0904e;stroke:#f0904e;stroke-width:0.9px" textLength="109.6" lengthAdjust="spacingAndGlyphs">ZEROAIR</text>
<text x="583.6" y="293.2" font-size="5.6" font-weight="bold" style="font-family:'Liberation Sans','DejaVu Sans',sans-serif;fill:#f0904e;stroke:#f0904e;stroke-width:0.3px" transform="rotate(-90 583.6 293.2)" textLength="14.6" lengthAdjust="spacingAndGlyphs">.ORG</text>
</g>
<!-- notes and CRI -->
<rect x="95.90" y="803.10" width="300.00" height="137.20" fill="#e6e6e6"/>
<text x="60.00" y="813.20" font-size="10.4" font-weight="bold" textLength="36.2" lengthAdjust="spacingAndGlyphs">Notes:</text>
<text x="102.50" y="816.50" font-size="10.4" textLength="63.5" lengthAdjust="spacingAndGlyphs">LiPO Level 4</text>
<text x="423.20" y="826.40" font-size="10.2" font-weight="bold">x</text>
<text x="446.00" y="826.40" font-size="10.2" font-weight="bold" textLength="38.4" lengthAdjust="spacingAndGlyphs">0.3214</text>
<text x="423.20" y="846.20" font-size="10.2" font-weight="bold">y</text>
<text x="446.00" y="846.20" font-size="10.2" font-weight="bold" textLength="38.4" lengthAdjust="spacingAndGlyphs">0.3494</text>
<text x="423.20" y="865.80" font-size="10.2" font-weight="bold">u'</text>
<text x="446.00" y="865.80" font-size="10.2" font-weight="bold" textLength="38.4" lengthAdjust="spacingAndGlyphs">0.1963</text>
<text x="423.20" y="885.30" font-size="10.2" font-weight="bold">v'</text>
<text x="446.00" y="885.30" font-size="10.2" font-weight="bold" textLength="38.4" lengthAdjust="spacingAndGlyphs">0.4801</text>
<rect x="509.60" y="803.40" width="131.00" height="137.60" fill="#fff" stroke="#444" stroke-width="1.1"/>
<text x="575.00" y="822.50" font-size="10.2" font-weight="bold" text-anchor="middle" textLength="82.5" lengthAdjust="spacingAndGlyphs">CIE 13.3-1995</text>
<text x="575.00" y="842.30" font-size="10.2" font-weight="bold" text-anchor="middle" textLength="27.4" lengthAdjust="spacingAndGlyphs">(CRI)</text>
<text x="556.4" y="861.8" font-size="10.2" font-weight="bold">R<tspan font-size="7.4" dy="2.8">a</tspan></text>
<text x="580.60" y="861.80" font-size="10.2" font-weight="bold" textLength="13.8" lengthAdjust="spacingAndGlyphs">69</text>
<text x="552.2" y="881.2" font-size="10.2" font-weight="bold">R<tspan font-size="7.4" dy="2.8">9</tspan></text>
<text x="577.60" y="881.20" font-size="10.2" font-weight="bold" textLength="20.6" lengthAdjust="spacingAndGlyphs">−41</text>
<text x="397.00" y="957.00" font-size="10.4" font-weight="bold" text-anchor="middle" textLength="279.5" lengthAdjust="spacingAndGlyphs">Colors are for visual orientation purposes only.</text>
</svg>
</body>
</html>
